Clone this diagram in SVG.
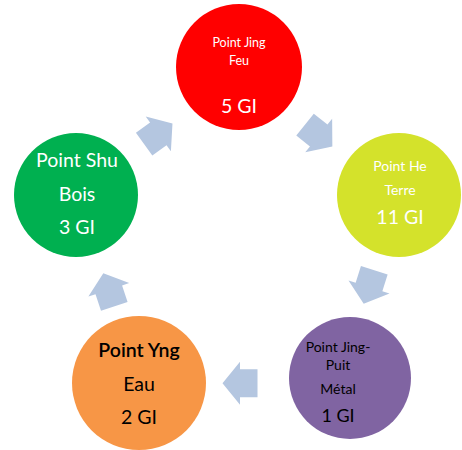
<svg xmlns="http://www.w3.org/2000/svg" width="462" height="450" viewBox="0 0 462 450">
<defs>
<style>
.arr{fill:#B4C6E0}
text{font-family:Lato,"Open Sans","Liberation Sans",sans-serif;text-anchor:middle}
.w{fill:#FFFFFF}
.k{fill:#000000}
</style>
<polygon id="ar" points="-17.5,-14 0,-14 0,-21.5 17.5,0 0,21.5 0,14 -17.5,14"/>
</defs>
<rect width="462" height="450" fill="#FFFFFF"/>
<g id="connectors">
<use href="#ar" class="arr" transform="translate(158.3,133.8) rotate(-35.9)"/>
<use href="#ar" class="arr" transform="translate(318.7,135.5) rotate(38.7)"/>
<use href="#ar" class="arr" transform="translate(369,287) rotate(107.6)"/>
<use href="#ar" class="arr" transform="translate(240,383.3) rotate(180)"/>
<use href="#ar" class="arr" transform="translate(108.8,289.8) rotate(-108.3)"/>
</g>
<g id="feu">
<circle cx="239" cy="67" r="63" fill="#FF0000"/>
<text class="w" x="239" y="46.7" font-size="12.5">Point Jing</text>
<text class="w" x="239" y="65.3" font-size="12.5">Feu</text>
<text class="w" x="239" y="112.7" font-size="19.5">5 GI</text>
</g>
<g id="terre">
<circle cx="399" cy="195" r="62" fill="#D4E22B"/>
<text class="w" x="400" y="170.7" font-size="14">Point He</text>
<text class="w" x="400" y="195" font-size="14">Terre</text>
<text class="w" x="400" y="224" font-size="19.5">11 GI</text>
</g>
<g id="metal">
<circle cx="350" cy="378" r="61" fill="#8064A2"/>
<text class="k" x="338" y="351.7" font-size="14">Point Jing-</text>
<text class="k" x="338" y="370" font-size="14">Puit</text>
<text class="k" x="338" y="394.3" font-size="14">Métal</text>
<text class="k" x="338" y="422.3" font-size="18">1 GI</text>
</g>
<g id="eau">
<circle cx="139" cy="383" r="67" fill="#F79646"/>
<text class="k" x="139" y="357.3" font-size="19.5" font-weight="600">Point Yng</text>
<text class="k" x="139" y="390.7" font-size="19.5">Eau</text>
<text class="k" x="139" y="424" font-size="19.5">2 GI</text>
</g>
<g id="bois">
<circle cx="76" cy="195" r="62" fill="#00B050"/>
<text class="w" x="77" y="167.3" font-size="19.5">Point Shu</text>
<text class="w" x="77" y="200.7" font-size="19.5">Bois</text>
<text class="w" x="77" y="234" font-size="19.5">3 GI</text>
</g>
</svg>
